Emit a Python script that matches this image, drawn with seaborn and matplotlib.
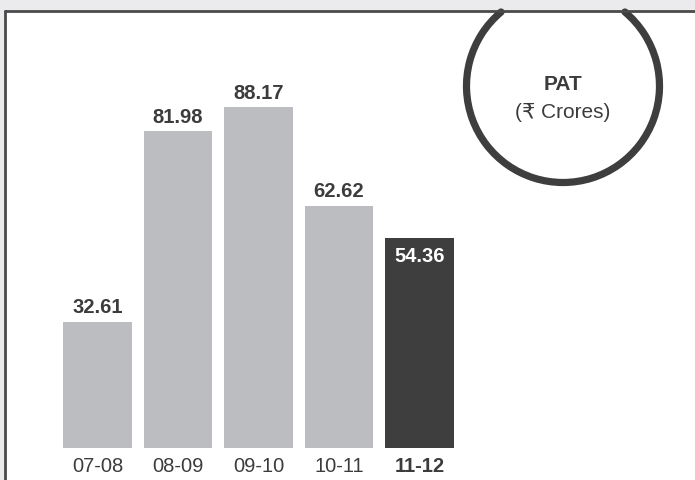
import matplotlib
matplotlib.use("Agg")
import matplotlib.pyplot as plt
from matplotlib.patches import Arc, Rectangle
from matplotlib.lines import Line2D
import numpy as np
import pandas as pd
import seaborn as sns

# PAT by financial year (Rs. Crores)
years = ["07-08", "08-09", "09-10", "10-11", "11-12"]
pat = [32.61, 81.98, 88.17, 62.62, 54.36]
bar_colors = ["#bcbdc1", "#bcbdc1", "#bcbdc1", "#bcbdc1", "#3e3e3e"]
label_colors = ["#3c3c3c", "#3c3c3c", "#3c3c3c", "#3c3c3c", "#ffffff"]

sns.set_theme(style="white")
FONT = ["Liberation Sans Narrow", "Liberation Sans", "DejaVu Sans"]
plt.rcParams["font.family"] = FONT

W, H = 695, 481
fig = plt.figure(figsize=(W / 100, H / 100), dpi=100, facecolor="#ebebed")


def fx(px):
    return px / W


def fy(py):
    return 1 - py / H


# white panel inside the frame
fig.add_artist(Rectangle((fx(5), 0), fx(W - 5), fy(12), transform=fig.transFigure,
                         facecolor="white", edgecolor="none", zorder=0))

df = pd.DataFrame({"year": years, "pat": pat})
ax = fig.add_axes([fx(4), 1 - 449 / H, fx(W - 4), (449 - 12) / H])
ax.set_facecolor("none")
sns.barplot(data=df, x="year", y="pat", hue="year", palette=bar_colors,
            width=0.857, saturation=1, legend=False, linewidth=0, ax=ax)

px_per_unit = 80.5
ax.set_xlim(-93.5 / px_per_unit, -93.5 / px_per_unit + (W - 4) / px_per_unit)
ax.set_ylim(0, 437 / 3.864)
for s in ax.spines.values():
    s.set_visible(False)
ax.set_yticks([])
ax.set_xlabel("")
ax.set_ylabel("")
ax.tick_params(axis="x", length=0, pad=6, labelsize=14.5, labelcolor="#3c3c3c")
for i, lab in enumerate(ax.get_xticklabels()):
    if i == len(years) - 1:
        lab.set_fontweight("bold")

# value labels
for i, (v, c) in enumerate(zip(pat, label_colors)):
    if i == len(years) - 1:
        ax.annotate(f"{v:.2f}", (i, v), xytext=(0, -6), textcoords="offset points",
                    ha="center", va="top", fontsize=14.5, fontweight="bold", color=c)
    else:
        ax.annotate(f"{v:.2f}", (i, v), xytext=(0, 4), textcoords="offset points",
                    ha="center", va="bottom", fontsize=14.5, fontweight="bold", color=c)

# circular badge hanging from the top frame (drawn in inches so it stays round)
cx, cy, r = 563, 87, 96.5
dy = cy - 13
theta = np.degrees(np.arcsin(dy / r))
fig.add_artist(Arc((cx / 100, (H - cy) / 100), 2 * r / 100, 2 * r / 100,
                   theta1=180 - theta, theta2=theta,
                   transform=fig.dpi_scale_trans, color="#3e3e3e", linewidth=5.2,
                   capstyle="round", zorder=3))
fig.text(fx(cx), fy(84), "PAT", ha="center", va="center", fontsize=15,
         fontweight="bold", color="#3c3c3c", family=FONT)
fig.text(fx(cx), fy(112), "(\u20b9 Crores)", ha="center", va="center", fontsize=15,
         color="#3c3c3c", family=FONT)

# frame lines (left and top)
fig.add_artist(Line2D([fx(5), fx(5)], [0, fy(12)], transform=fig.transFigure,
                      color="#4a4a4a", linewidth=2, zorder=5))
fig.add_artist(Line2D([fx(5), 1], [fy(12), fy(12)], transform=fig.transFigure,
                      color="#4a4a4a", linewidth=2, zorder=5))

fig.savefig("out.png", dpi=100, facecolor=fig.get_facecolor())
